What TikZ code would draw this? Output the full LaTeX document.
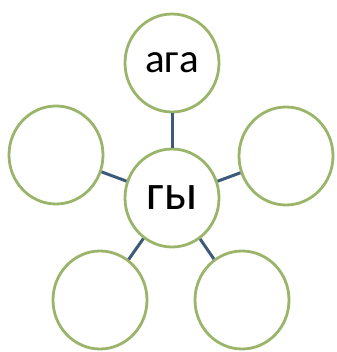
\documentclass[tikz,border=0pt]{standalone}
\usepackage{fontspec}
\setmainfont{Carlito}
\usetikzlibrary{shapes.geometric}
\definecolor{ringgreen}{HTML}{9AB56A}
\definecolor{linkblue}{HTML}{3D5A7A}
\tikzset{
  ring/.style={ellipse, draw=ringgreen, line width=2.8pt, fill=white, minimum width=94pt, minimum height=98pt, inner sep=0pt},
  link/.style={draw=linkblue, line width=3pt}
}
\begin{document}
\begin{tikzpicture}[x=1pt,y=-1pt]
\useasboundingbox (0,0) rectangle (336,352);
\node[ring] (c) at (172,198) {\fontsize{50}{52}\selectfont гы};
\node[ring] (t) at (172,63) {\fontsize{41}{44}\selectfont ага};
\node[ring] (l) at (56,155) {};
\node[ring] (r) at (286,156) {};
\node[ring] (bl) at (100,300) {};
\node[ring] (br) at (242,300) {};
\draw[link] (c) -- (t);
\draw[link] (c) -- (l);
\draw[link] (c) -- (r);
\draw[link] (c) -- (bl);
\draw[link] (c) -- (br);
\end{tikzpicture}
\end{document}
